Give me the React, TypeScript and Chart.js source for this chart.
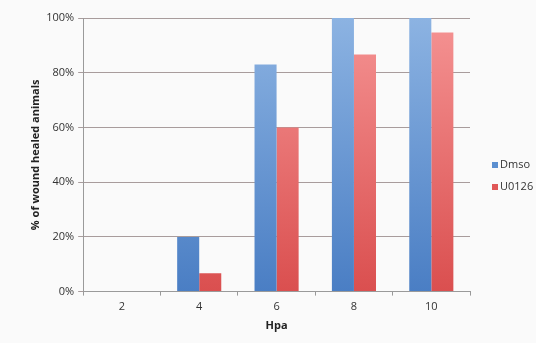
import React, { useEffect, useRef } from "react";
import { Chart, registerables } from "chart.js";

Chart.register(...registerables);

const categories = ["2", "4", "6", "8", "10"];
const dmsoValues = [0, 20, 83, 100, 100];
const u0126Values = [0, 6.7, 60, 86.7, 94.7];
const seriesNames = ["Dmso", "U0126"];
const yTicks = [0, 20, 40, 60, 80, 100];

const FONT = "'Open Sans', 'Liberation Sans', sans-serif";

function grad(ctx: any, top: string, bottom: string) {
  const chart = ctx.chart;
  const area = chart.chartArea;
  if (!area) return bottom;
  const g = chart.ctx.createLinearGradient(0, area.top, 0, area.bottom);
  g.addColorStop(0, top);
  g.addColorStop(1, bottom);
  return g;
}

const legendColors = ["#5b8fd0", "#e05757"];

const sideLegend = {
  id: "sideLegend",
  afterDraw(chart: any) {
    const c = chart.ctx;
    c.save();
    c.font = "11px " + FONT;
    c.textBaseline = "middle";
    c.textAlign = "left";
    seriesNames.forEach((name, i) => {
      const y = 165 + i * 22;
      c.fillStyle = legendColors[i];
      c.fillRect(492, y - 3, 6, 6);
      c.fillStyle = "#333";
      c.fillText(name, 500, y);
    });
    c.restore();
  },
};

export default function App() {
  const ref = useRef<HTMLCanvasElement>(null);
  useEffect(() => {
    document.body.style.margin = "0";
    const chart = new Chart(ref.current!, {
      type: "bar",
      data: {
        labels: categories,
        datasets: [
          {
            label: seriesNames[0],
            data: dmsoValues,
            backgroundColor: (c: any) => grad(c, "#8cb3e2", "#4a7ec4"),
            borderWidth: 0,
            categoryPercentage: 0.57,
            barPercentage: 1,
          },
          {
            label: seriesNames[1],
            data: u0126Values,
            backgroundColor: (c: any) => grad(c, "#f59393", "#da4f4f"),
            borderWidth: 0,
            categoryPercentage: 0.57,
            barPercentage: 1,
          },
        ],
      },
      options: {
        responsive: false,
        animation: false,
        layout: { padding: { top: 18, left: 29, right: 66, bottom: 11 } },
        plugins: {
          tooltip: { enabled: false },
          legend: { display: false },
        },
        scales: {
          x: {
            grid: {
              display: true,
              drawOnChartArea: false,
              drawTicks: true,
              tickLength: 4,
              color: "#999",
              offset: true,
            },
            border: { color: "#9a9a9a" },
            ticks: { color: "#333", font: { family: FONT, size: 11 }, padding: 5 },
            title: {
              display: true,
              text: "Hpa",
              color: "#222",
              font: { family: FONT, size: 11, weight: "bold" },
              padding: { top: 0, bottom: 0 },
            },
          },
          y: {
            min: 0,
            max: 100,
            afterBuildTicks: (axis: any) => {
              axis.ticks = yTicks.map((v) => ({ value: v }));
            },
            grid: { color: "#a89c9c", tickLength: 5, lineWidth: 1 },
            border: { color: "#9a9a9a" },
            ticks: {
              color: "#333",
              font: { family: FONT, size: 11 },
              padding: 4,
              callback: (v: any) => v + "%",
            },
            title: {
              display: true,
              text: "% of wound healed animals",
              color: "#222",
              font: { family: FONT, size: 11, weight: "bold" },
              padding: { top: 0, bottom: 0 },
            },
          },
        },
      },
      plugins: [sideLegend],
    } as any);
    return () => chart.destroy();
  }, []);
  return (
    <div style={{ width: 536, height: 343, background: "#fafafa" }}>
      <canvas ref={ref} width={536} height={343} />
    </div>
  );
}
